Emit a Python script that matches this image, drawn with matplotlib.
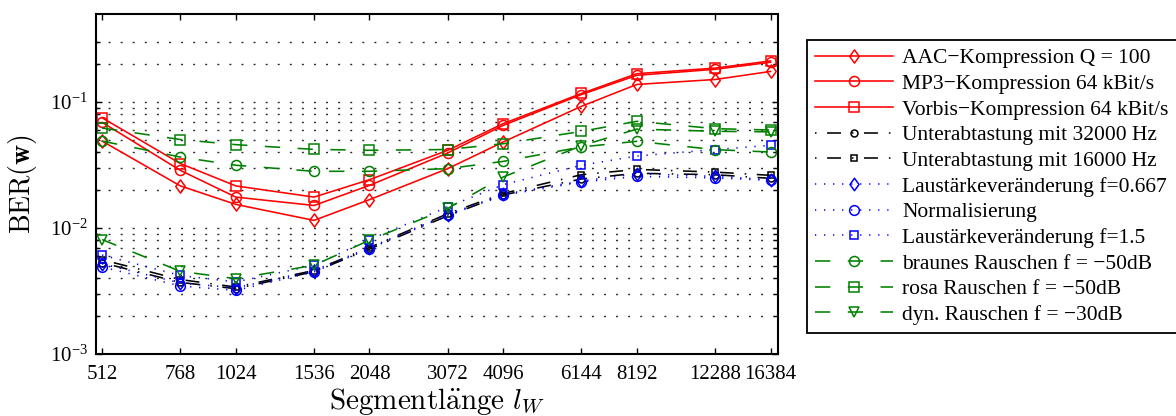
import numpy as np
import matplotlib
matplotlib.use('Agg')
import matplotlib.pyplot as plt
from matplotlib.ticker import FixedLocator, FixedFormatter, NullLocator
from matplotlib.path import Path

# ---------------- data ----------------
seg_len = [512, 768, 1024, 1536, 2048, 3072, 4096, 6144, 8192, 12288, 16384]
tick_labels = ['512', '768', '1024', '1536', '2048', '3072', '4096', '6144', '8192', '12288', '16384']

aac = [0.049, 0.0216, 0.0154, 0.0115, 0.0168, 0.0296, 0.0482, 0.0925, 0.138, 0.151, 0.175]
mp3 = [0.069, 0.0287, 0.0176, 0.0151, 0.0218, 0.0394, 0.0653, 0.1146, 0.163, 0.182, 0.207]
vorbis = [0.075, 0.0325, 0.0216, 0.0176, 0.0242, 0.0414, 0.0674, 0.117, 0.168, 0.186, 0.212]
sub32 = [0.0053, 0.0037, 0.0033, 0.0045, 0.0068, 0.0125, 0.0183, 0.0245, 0.0272, 0.0265, 0.0248]
sub16 = [0.0056, 0.0039, 0.0034, 0.0046, 0.0070, 0.0130, 0.0188, 0.0265, 0.0292, 0.0278, 0.0262]
vol067 = [0.0052, 0.00366, 0.00335, 0.0046, 0.0070, 0.0128, 0.0185, 0.0236, 0.0270, 0.0257, 0.0242]
normal = [0.0049, 0.00347, 0.0032, 0.00448, 0.00687, 0.0126, 0.0182, 0.0232, 0.0257, 0.0250, 0.0239]
vol15 = [0.0061, 0.0042, 0.00373, 0.00506, 0.0081, 0.0147, 0.0221, 0.0315, 0.0373, 0.042, 0.0453]
braun = [0.049, 0.0366, 0.0315, 0.0282, 0.0282, 0.0296, 0.0338, 0.044, 0.0488, 0.0419, 0.0401]
rosa = [0.0622, 0.0504, 0.0459, 0.0421, 0.0414, 0.042, 0.0467, 0.0585, 0.0703, 0.0615, 0.060]
dyn = [0.0081, 0.00453, 0.00396, 0.00506, 0.0080, 0.0143, 0.0254, 0.045, 0.061, 0.0586, 0.058]

labels = ['AAC−Kompression Q = 100', 'MP3−Kompression 64 kBit/s', 'Vorbis−Kompression 64 kBit/s',
          'Unterabtastung mit 32000 Hz', 'Unterabtastung mit 16000 Hz',
          'Laustärkeveränderung f=0.667', 'Normalisierung', 'Laustärkeveränderung f=1.5',
          'braunes Rauschen f = −50dB', 'rosa Rauschen f = −50dB', 'dyn. Rauschen f = −30dB']

# ---------------- style ----------------
plt.rcParams['font.family'] = ['Liberation Serif', 'DejaVu Serif']
plt.rcParams['mathtext.fontset'] = 'stix'
plt.rcParams['lines.scale_dashes'] = False

RED, GREEN, BLUE, BLACK = '#ff0000', '#008000', '#0000ff', '#000000'
diamond = Path([(-0.72, 0), (0, 1), (0.72, 0), (0, -1), (-0.72, 0)],
               [Path.MOVETO, Path.LINETO, Path.LINETO, Path.LINETO, Path.CLOSEPOLY])

ls_solid = '-'
ls_dashdot = (0, (1.1, 7.6, 10.0, 7.9))
ls_dot = (0, (0.9, 5.6))
ls_dash = (0, (11.0, 12.6))

specs = [
    (aac, RED, ls_solid, diamond, 9.5),
    (mp3, RED, ls_solid, 'o', 7.2),
    (vorbis, RED, ls_solid, 's', 6.5),
    (sub32, BLACK, ls_dashdot, 'o', 5.0),
    (sub16, BLACK, ls_dashdot, 's', 4.8),
    (vol067, BLUE, ls_dot, diamond, 9.0),
    (normal, BLUE, ls_dot, 'o', 7.0),
    (vol15, BLUE, ls_dot, 's', 6.3),
    (braun, GREEN, ls_dash, 'o', 7.2),
    (rosa, GREEN, ls_dash, 's', 6.5),
    (dyn, GREEN, ls_dash, 'v', 7.2),
]

fig = plt.figure(figsize=(11.76, 4.16), dpi=100)
ax = fig.add_axes([96 / 1176, 62 / 416, 682 / 1176, 340 / 416])

handles = []
for (vals, col, ls, mk, ms), lab in zip(specs, labels):
    h, = ax.plot(seg_len, vals, color=col, linestyle=ls, linewidth=1.15,
                 marker=mk, markersize=ms, markerfacecolor='none',
                 markeredgecolor=col, markeredgewidth=1.1, label=lab)
    handles.append(h)

ax.set_xscale('log', base=2)
ax.set_yscale('log')
ax.set_xlim(496, 17030)
ax.set_ylim(1e-3, 0.5)

ax.xaxis.set_major_locator(FixedLocator(seg_len))
ax.xaxis.set_major_formatter(FixedFormatter(tick_labels))
ax.xaxis.set_minor_locator(NullLocator())

minor_y = [m * 10.0 ** k for k in (-3, -2, -1) for m in range(2, 10) if m * 10.0 ** k < 0.35]
ax.yaxis.set_major_locator(FixedLocator([1e-3, 1e-2, 1e-1]))
ax.yaxis.set_minor_locator(FixedLocator(minor_y))

ax.yaxis.grid(True, which='both', linestyle=(0, (1.4, 7.3)), color='0.15', linewidth=1.0)
ax.set_axisbelow(True)

ax.tick_params(axis='both', which='both', direction='in', labelsize=15)
ax.tick_params(axis='x', which='major', top=True, bottom=True, length=4.3, width=1.0, pad=8)
ax.tick_params(axis='y', which='major', left=True, right=True, length=4.3, width=1.0, pad=6)
ax.tick_params(axis='y', which='minor', left=True, right=True, length=2.6, width=1.0)

for sp in ax.spines.values():
    sp.set_linewidth(1.5)

ax.set_ylabel(r'$\mathrm{BER}(\mathbf{w})$', fontsize=20, math_fontfamily='cm')
ax.yaxis.set_label_coords((39 - 96) / 682, 0.5)
ax.set_xlabel(r'$\mathrm{Segmentl\ddot{a}nge}\ l_W$', fontsize=21, math_fontfamily='cm')
ax.xaxis.set_label_coords(0.5, (354 - 386) / 340)

leg = fig.legend(handles=handles, labels=labels, loc='upper left',
                 bbox_to_anchor=(807 / 1176, 1 - 40 / 416), bbox_transform=fig.transFigure,
                 fontsize=15.5, handlelength=3.63, handletextpad=0.42, labelspacing=0.26,
                 borderpad=0.38, borderaxespad=0, frameon=True, fancybox=False,
                 edgecolor='black', framealpha=1)
leg.get_frame().set_linewidth(1.3)

fig.savefig('out.png', dpi=100)
